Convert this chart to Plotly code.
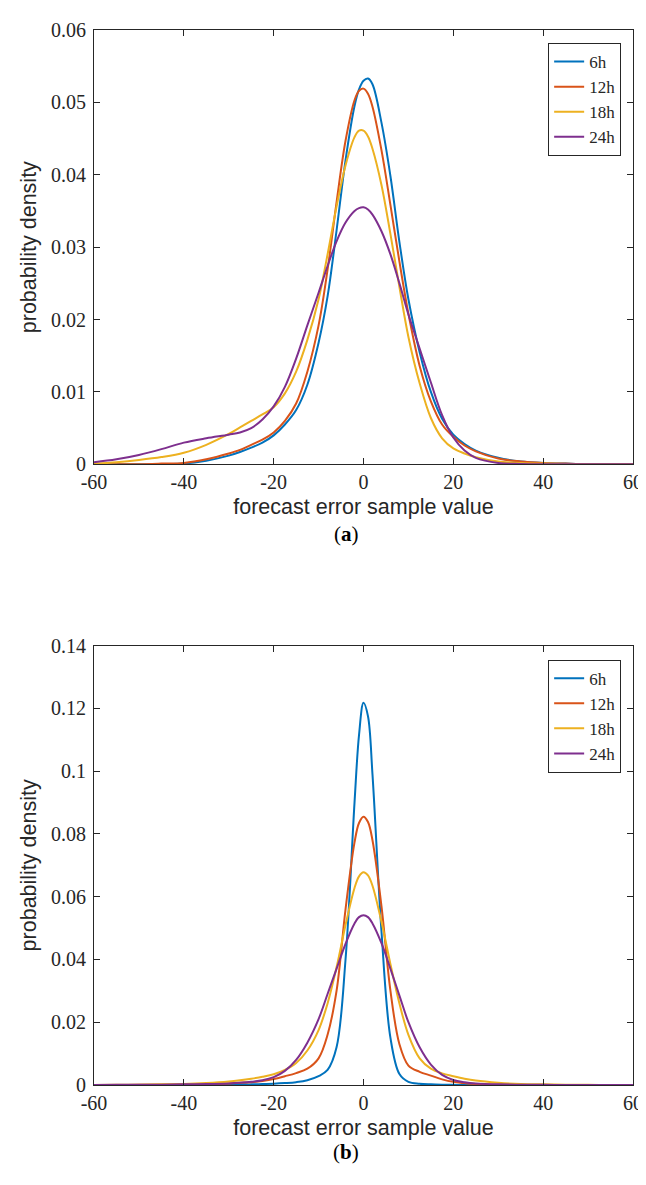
import plotly.graph_objects as go

# ---------------- data ----------------
x_vals = [-60, -55, -50, -45, -40, -35, -30, -27.5, -25, -22.5, -20, -17.5, -15, -12.5, -10, -8, -6, -4, -2, -1,
          0, 1, 2, 4, 6, 8, 10, 12.5, 15, 17.5, 20, 22.5, 25, 30, 35, 40, 45, 50, 55, 60]

series_names = ["6h", "12h", "18h", "24h"]
series_colors = ["#0072BD", "#D95319", "#EDB120", "#7E2F8E"]

# panel (a)
a_6h = [0, 0, 0, 0.00003, 0.0001, 0.0005, 0.0012, 0.0017, 0.0023, 0.0030, 0.0040, 0.0055, 0.0075, 0.0110, 0.0168, 0.0232, 0.0323, 0.0420, 0.0495, 0.0518,
        0.0530, 0.0533, 0.0525, 0.0472, 0.0398, 0.0307, 0.0228, 0.0155, 0.0100, 0.0063, 0.0041, 0.0028, 0.0019, 0.0009, 0.0004, 0.0002, 0.0001, 0.00003, 0, 0]
a_12h = [0, 0, 0.00002, 0.0001, 0.0002, 0.0007, 0.0015, 0.0020, 0.0027, 0.0034, 0.0044, 0.0060, 0.0084, 0.0128, 0.0192, 0.0269, 0.0362, 0.0447, 0.0503, 0.0516,
         0.0519, 0.0512, 0.0494, 0.0434, 0.0358, 0.0280, 0.0208, 0.0136, 0.0087, 0.0055, 0.0038, 0.0026, 0.0018, 0.0008, 0.0004, 0.0002, 0.0001, 0.00003, 0, 0]
a_18h = [0.0001, 0.0003, 0.0006, 0.0010, 0.0016, 0.0027, 0.0042, 0.0051, 0.0060, 0.0069, 0.0079, 0.0098, 0.0128, 0.0172, 0.0228, 0.0290, 0.0356, 0.0413, 0.0452, 0.0461,
         0.0461, 0.0453, 0.0436, 0.0386, 0.0318, 0.0245, 0.0176, 0.0112, 0.0064, 0.0036, 0.0022, 0.0015, 0.0010, 0.0004, 0.0002, 0.0001, 0.00005, 0, 0, 0]
a_24h = [0.0003, 0.0007, 0.0013, 0.0021, 0.0030, 0.0036, 0.0041, 0.0044, 0.0050, 0.0062, 0.0080, 0.0107, 0.0146, 0.0192, 0.0237, 0.0274, 0.0308, 0.0334, 0.0350, 0.0354,
         0.0355, 0.0352, 0.0345, 0.0322, 0.0290, 0.0250, 0.0207, 0.0160, 0.0113, 0.0068, 0.0037, 0.0019, 0.0009, 0.0002, 0.00005, 0, 0, 0, 0, 0]

# panel (b)
b_6h = [0, 0, 0, 0, 0.00005, 0.0001, 0.0001, 0.0002, 0.0002, 0.0003, 0.0004, 0.0006, 0.0009, 0.0015, 0.0028, 0.0048, 0.0120, 0.0400, 0.0900, 0.1115,
        0.1218, 0.1175, 0.0990, 0.0490, 0.0150, 0.0035, 0.0010, 0.0004, 0.0002, 0.0001, 0.00005, 0, 0, 0, 0, 0, 0, 0, 0, 0]
b_12h = [0, 0, 0.00005, 0.0001, 0.0002, 0.0003, 0.0005, 0.0007, 0.0009, 0.0013, 0.0019, 0.0028, 0.0038, 0.0052, 0.0085, 0.0160, 0.0300, 0.0560, 0.0773, 0.0835,
         0.0855, 0.0838, 0.0780, 0.0570, 0.0300, 0.0130, 0.0062, 0.0042, 0.0030, 0.0018, 0.0010, 0.0006, 0.0003, 0.0001, 0.00005, 0, 0, 0, 0, 0]
b_18h = [0, 0.00005, 0.0001, 0.0002, 0.0003, 0.0006, 0.0011, 0.0015, 0.0020, 0.0026, 0.0034, 0.0048, 0.0070, 0.0110, 0.0175, 0.0260, 0.0375, 0.0510, 0.0628, 0.0665,
         0.0678, 0.0668, 0.0635, 0.0520, 0.0385, 0.0260, 0.0160, 0.0085, 0.0052, 0.0037, 0.0028, 0.0020, 0.0014, 0.0007, 0.0003, 0.0002, 0.0001, 0.00005, 0, 0]
b_24h = [0, 0.00005, 0.0001, 0.0001, 0.0002, 0.0003, 0.0005, 0.0007, 0.0010, 0.0015, 0.0025, 0.0045, 0.0080, 0.0135, 0.0210, 0.0290, 0.0370, 0.0450, 0.0515, 0.0535,
         0.0541, 0.0535, 0.0515, 0.0452, 0.0370, 0.0285, 0.0200, 0.0120, 0.0065, 0.0032, 0.0016, 0.0009, 0.0005, 0.0002, 0.0001, 0.00005, 0, 0, 0, 0]

x_ticks = [-60, -40, -20, 0, 20, 40, 60]
x_ticktext = ["-60", "-40", "-20", "0", "20", "40", "60"]
ya_ticks = [0, 0.01, 0.02, 0.03, 0.04, 0.05, 0.06]
ya_ticktext = ["0", "0.01", "0.02", "0.03", "0.04", "0.05", "0.06"]
yb_ticks = [0, 0.02, 0.04, 0.06, 0.08, 0.1, 0.12, 0.14]
yb_ticktext = ["0", "0.02", "0.04", "0.06", "0.08", "0.1", "0.12", "0.14"]

x_title = "forecast error sample value"
y_title = "probability density"

# ---------------- figure ----------------
AX = "#262626"
fig = go.Figure()

panel_a = [a_6h, a_12h, a_18h, a_24h]
panel_b = [b_6h, b_12h, b_18h, b_24h]

for name, col, ys in zip(series_names, series_colors, panel_a):
    fig.add_trace(go.Scatter(x=x_vals, y=ys, name=name, mode="lines",
                             line=dict(color=col, width=2, shape="spline", smoothing=1.0),
                             xaxis="x", yaxis="y", legend="legend"))
for name, col, ys in zip(series_names, series_colors, panel_b):
    fig.add_trace(go.Scatter(x=x_vals, y=ys, name=name, mode="lines",
                             line=dict(color=col, width=2, shape="spline", smoothing=1.0),
                             xaxis="x2", yaxis="y2", legend="legend2"))

tick_font = dict(family="Liberation Serif", size=20, color=AX)
title_font = dict(family="Liberation Sans", size=21.5, color=AX)

common_axis = dict(showline=True, linecolor=AX, linewidth=1, mirror="ticks", ticks="inside",
                   ticklen=6, tickcolor=AX, tickwidth=1, showgrid=False, zeroline=False,
                   tickfont=tick_font)

legend_common = dict(x=0.978, xanchor="right", yanchor="top", bgcolor="white",
                     bordercolor=AX, borderwidth=1,
                     font=dict(family="Liberation Serif", size=17, color=AX),
                     tracegroupgap=0)

fig.update_layout(
    width=646, height=1185,
    margin=dict(l=86, r=11, t=18, b=108),
    paper_bgcolor="white", plot_bgcolor="white",
    showlegend=True,
    xaxis=dict(domain=[0, 1], anchor="y", range=[-60, 60], tickvals=x_ticks, ticktext=x_ticktext,
               title=dict(text=x_title, font=title_font, standoff=6), **common_axis),
    yaxis=dict(domain=[0.5883, 1], anchor="x", range=[0, 0.06], tickvals=ya_ticks, ticktext=ya_ticktext,
               ticklabelstandoff=3,
               title=dict(text=y_title, font=title_font, standoff=8), **common_axis),
    xaxis2=dict(domain=[0, 1], anchor="y2", range=[-60, 60], tickvals=x_ticks, ticktext=x_ticktext,
                title=dict(text=x_title, font=title_font, standoff=6), **common_axis),
    yaxis2=dict(domain=[0, 0.4164], anchor="x2", range=[0, 0.14], tickvals=yb_ticks, ticktext=yb_ticktext,
                ticklabelstandoff=3,
                title=dict(text=y_title, font=title_font, standoff=8), **common_axis),
    legend=dict(y=0.9877, **legend_common),
    legend2=dict(y=0.4032, **legend_common),
    annotations=[
        dict(text="(<b>a</b>)", xref="paper", yref="paper", x=0.468, y=0.522, showarrow=False,
             font=dict(family="Liberation Serif", size=21, color="black")),
        dict(text="(<b>b</b>)", xref="paper", yref="paper", x=0.468, y=-0.0765, showarrow=False,
             font=dict(family="Liberation Serif", size=21, color="black")),
    ],
)

fig.write_html("out.html")
